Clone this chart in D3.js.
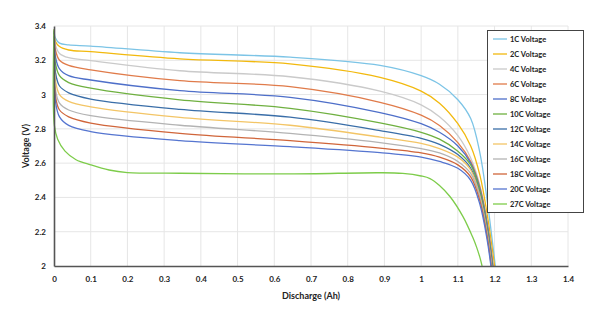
<!DOCTYPE html>
<html lang="en">
<head>
<meta charset="UTF-8">
<title>Discharge curves</title>
<script src="https://d3js.org/d3.v7.min.js"></script>
<style>
  body { margin: 0; background: #fff; }
  text { font-family: Lato, "Liberation Sans", sans-serif; font-weight: bold; fill: #222; }
</style>
</head>
<body>
<div id="figure" style="width:600px;height:309px"></div>
<script>
// discharge capacity (Ah) sample positions, per series
let series = ["1C Voltage", "2C Voltage", "4C Voltage", "6C Voltage", "8C Voltage", "10C Voltage",
              "12C Voltage", "14C Voltage", "16C Voltage", "18C Voltage", "20C Voltage", "27C Voltage"];
let colors = ["#7cc4e6", "#f2b90e", "#cacaca", "#e07b4a", "#4e6fc9", "#6fb040",
              "#3a6ea8", "#f3c566", "#b3b3b3", "#d0653a", "#5575d0", "#7dcc4a"];

let qCommon = [0, 0.004, 0.015, 0.04, 0.1, 0.343, 0.643, 0.888, 1.0, 1.05, 1.1, 1.135, 1.16, 1.18];

let v1C  = [3.38, 3.33, 3.30, 3.29, 3.283, 3.244, 3.218, 3.17, 3.11, 3.06, 2.97, 2.86, 2.66, 2.38];
let v2C  = [3.38, 3.31, 3.28, 3.26, 3.25, 3.208, 3.179, 3.10, 3.02, 2.95, 2.83, 2.70, 2.53, 2.30];
let v4C  = [3.38, 3.29, 3.24, 3.215, 3.198, 3.139, 3.104, 3.02, 2.94, 2.87, 2.76, 2.63, 2.47, 2.25];
let v6C  = [3.37, 3.26, 3.20, 3.17, 3.144, 3.081, 3.046, 2.955, 2.88, 2.82, 2.72, 2.61, 2.46, 2.25];
let v8C  = [3.37, 3.22, 3.15, 3.11, 3.085, 3.023, 2.984, 2.895, 2.83, 2.78, 2.70, 2.60, 2.45, 2.24];
let v10C = [3.36, 3.18, 3.11, 3.07, 3.037, 2.969, 2.920, 2.835, 2.78, 2.74, 2.67, 2.59, 2.44, 2.22];
let v12C = [3.36, 3.13, 3.05, 3.01, 2.974, 2.914, 2.868, 2.79, 2.745, 2.71, 2.65, 2.57, 2.42, 2.20];
let v14C = [3.35, 3.08, 3.00, 2.96, 2.928, 2.867, 2.821, 2.752, 2.715, 2.685, 2.635, 2.56, 2.41, 2.19];
let v16C = [3.35, 3.03, 2.95, 2.91, 2.877, 2.821, 2.774, 2.72, 2.685, 2.66, 2.61, 2.54, 2.40, 2.18];
let v18C = [3.34, 2.99, 2.91, 2.87, 2.834, 2.774, 2.731, 2.688, 2.66, 2.635, 2.59, 2.52, 2.38, 2.17];
let v20C = [3.34, 2.96, 2.87, 2.82, 2.784, 2.731, 2.696, 2.661, 2.635, 2.61, 2.57, 2.50, 2.36, 2.15];
// end of discharge (V = 2.0) for each of the first eleven series
let qEnd = [1.202, 1.2, 1.197, 1.196, 1.195, 1.194, 1.193, 1.192, 1.192, 1.191, 1.19];

let q27C = [0, 0.001, 0.01, 0.03, 0.06, 0.1, 0.15, 0.2, 0.343, 0.643, 0.888, 0.95, 1.0, 1.024, 1.05, 1.079, 1.114, 1.14, 1.151, 1.16, 1.166];
let v27C = [3.38, 2.82, 2.74, 2.67, 2.62, 2.59, 2.56, 2.545, 2.541, 2.537, 2.544, 2.54, 2.525, 2.51, 2.47, 2.404, 2.288, 2.17, 2.11, 2.05, 2.0];

let xTicks = d3.range(0, 1.41, 0.1);
let yTicks = [2, 2.2, 2.4, 2.6, 2.8, 3, 3.2, 3.4];

let volts = [v1C, v2C, v4C, v6C, v8C, v10C, v12C, v14C, v16C, v18C, v20C];
let data = volts.map((v, i) => {
    let pts = qCommon.map((q, k) => ({q: q, v: v[k]}));
    pts.push({q: qEnd[i], v: 2.0});
    return pts;
});
data.push(q27C.map((q, k) => ({q: q, v: v27C[k]})));

let plotLeft = 54, plotRight = 568, plotTop = 26, plotBottom = 266;

let svg = d3.select("#figure").append("svg")
    .attr("width", 600)
    .attr("height", 309);

let xScale = d3.scaleLinear().domain([0, 1.4]).range([plotLeft, plotRight]);
let yScale = d3.scaleLinear().domain([2, 3.4]).range([plotBottom, plotTop]);

// grid
svg.append("g")
    .selectAll("line")
    .data(xTicks.slice(1))
    .join("line")
    .attr("x1", d => xScale(d)).attr("x2", d => xScale(d))
    .attr("y1", plotTop).attr("y2", plotBottom)
    .style("stroke", "#e6e6e6").style("stroke-width", 1);
svg.append("g")
    .selectAll("line")
    .data(yTicks.slice(1))
    .join("line")
    .attr("x1", plotLeft).attr("x2", plotRight)
    .attr("y1", d => yScale(d)).attr("y2", d => yScale(d))
    .style("stroke", "#e6e6e6").style("stroke-width", 1);

// curves
let line = d3.line()
    .x(d => xScale(d.q))
    .y(d => yScale(d.v))
    .curve(d3.curveCatmullRom.alpha(0.5));

svg.append("g")
    .selectAll("path")
    .data(data)
    .join("path")
    .attr("d", line)
    .style("fill", "none")
    .style("stroke", (d, i) => colors[i])
    .style("stroke-width", 1.3);

// axes
let xAxis = svg.append("g")
    .attr("transform", `translate(0,${plotBottom})`)
    .call(d3.axisBottom(xScale).tickValues(xTicks).tickSize(0).tickPadding(10)
        .tickFormat(d => d3.format("~g")(+d.toFixed(1))));
let yAxis = svg.append("g")
    .attr("transform", `translate(${plotLeft},0)`)
    .call(d3.axisLeft(yScale).tickValues(yTicks).tickSize(0).tickPadding(8)
        .tickFormat(d => d3.format("~g")(d)));
[xAxis, yAxis].forEach(a => {
    a.select(".domain").style("stroke", "#555").style("stroke-width", 1.6);
    a.selectAll("text").style("font-size", "8px").style("font-family", "Lato, sans-serif").style("font-weight", "bold").style("fill", "#222");
});

svg.append("text")
    .attr("x", (plotLeft + plotRight) / 2)
    .attr("y", 299)
    .attr("text-anchor", "middle")
    .style("font-size", "9px")
    .text("Discharge (Ah)");
svg.append("text")
    .attr("transform", `translate(29,${(plotTop + plotBottom) / 2}) rotate(-90)`)
    .attr("text-anchor", "middle")
    .style("font-size", "9px")
    .text("Voltage (V)");

// legend
let legend = svg.append("g");
legend.append("rect")
    .attr("x", 487.5).attr("y", 30.5)
    .attr("width", 96).attr("height", 182)
    .style("fill", "#fff").style("stroke", "#444").style("stroke-width", 1);
let rowY = d3.scalePoint().domain(series).range([39, 204]);
let item = legend.selectAll("g.item")
    .data(series)
    .join("g")
    .attr("transform", d => `translate(0,${rowY(d)})`);
item.append("line")
    .attr("x1", 493).attr("x2", 507)
    .style("stroke", (d, i) => colors[i]).style("stroke-width", 1.3);
item.append("text")
    .attr("x", 510).attr("dy", "0.35em")
    .style("font-size", "7.5px")
    .text(d => d);
</script>
</body>
</html>
